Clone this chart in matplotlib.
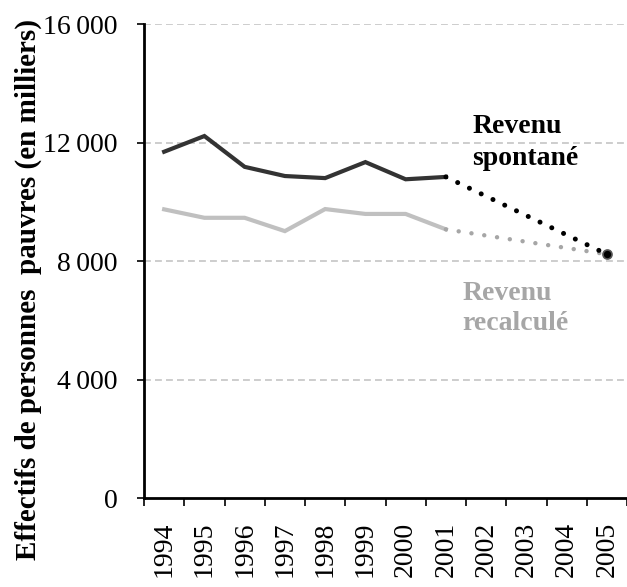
import matplotlib
matplotlib.use("Agg")
import matplotlib.pyplot as plt
from matplotlib.ticker import FuncFormatter, FixedLocator

years = ["1994", "1995", "1996", "1997", "1998", "1999", "2000", "2001",
         "2002", "2003", "2004", "2005"]
spontane = [11690, 12220, 11180, 10870, 10800, 11340, 10760, 10840]
recalcule = [9745, 9460, 9460, 9010, 9755, 9590, 9590, 9070]
projection_2005 = 8230

plt.rcParams['font.family'] = ['Liberation Serif', 'DejaVu Serif']

fig = plt.figure(figsize=(6.27, 5.87), dpi=100)
ax = fig.add_axes([0.2297, 0.1516, 0.7703, 0.8074])

x_obs = list(range(len(spontane)))
last = x_obs[-1]
end = len(years) - 1

ax.plot(x_obs, spontane, color='#333333', lw=3.0, solid_joinstyle='miter', zorder=4)
ax.plot(x_obs, recalcule, color='#c0c0c0', lw=3.0, solid_joinstyle='miter', zorder=3)

ax.plot([last, end], [spontane[-1], projection_2005], color='black', lw=3.6,
        linestyle=(0, (0.01, 2.6)), dash_capstyle='round', zorder=4)
ax.plot([last, end], [recalcule[-1], projection_2005], color='#a6a6a6', lw=3.2,
        linestyle=(0, (0.01, 2.9)), dash_capstyle='round', zorder=3)
ax.plot([end], [projection_2005], marker='o', ms=6.5, color='black',
        mec='#555555', mew=1.2, zorder=5)

ax.set_xlim(-0.5, len(years) - 0.5)
ax.set_ylim(0, 16000)
ax.set_yticks([0, 4000, 8000, 12000, 16000])
ax.yaxis.set_major_formatter(FuncFormatter(lambda v, p: f"{int(v):,}".replace(",", "\u2009")))
ax.set_xticks(range(len(years)))
ax.set_xticklabels(years, rotation=90)
ax.xaxis.set_minor_locator(FixedLocator([i - 0.5 for i in range(len(years) + 1)]))
ax.tick_params(axis='x', which='major', length=0, pad=17, labelsize=20)
ax.tick_params(axis='x', which='minor', length=6, width=1.2, direction='out')
ax.tick_params(axis='y', length=5, width=1.2, direction='out', labelsize=20, pad=14)

for y in [4000, 8000, 12000, 16000]:
    ax.axhline(y, color='#c0c0c0', lw=1.1, linestyle=(0, (4.5, 2.7)), zorder=1)

for s in ['top', 'right']:
    ax.spines[s].set_visible(False)
for s in ['left', 'bottom']:
    ax.spines[s].set_linewidth(2)
    ax.spines[s].set_color('black')

ax.set_ylabel("Effectifs de personnes  pauvres (en milliers)", fontsize=21,
              fontweight='bold')
ax.yaxis.set_label_coords(-0.211, 0.441)

ax.text(7.66, 12321, "Revenu", ha='left', va='baseline', fontsize=20,
        fontweight='bold', color='black')
ax.text(7.66, 11240, "spontané", ha='left', va='baseline', fontsize=20,
        fontweight='bold', color='black')
ax.text(7.41, 6684, "Revenu", ha='left', va='baseline', fontsize=20,
        fontweight='bold', color='#a6a6a6')
ax.text(7.41, 5671, "recalculé", ha='left', va='baseline', fontsize=20,
        fontweight='bold', color='#a6a6a6')

fig.savefig("out.png", dpi=100)
